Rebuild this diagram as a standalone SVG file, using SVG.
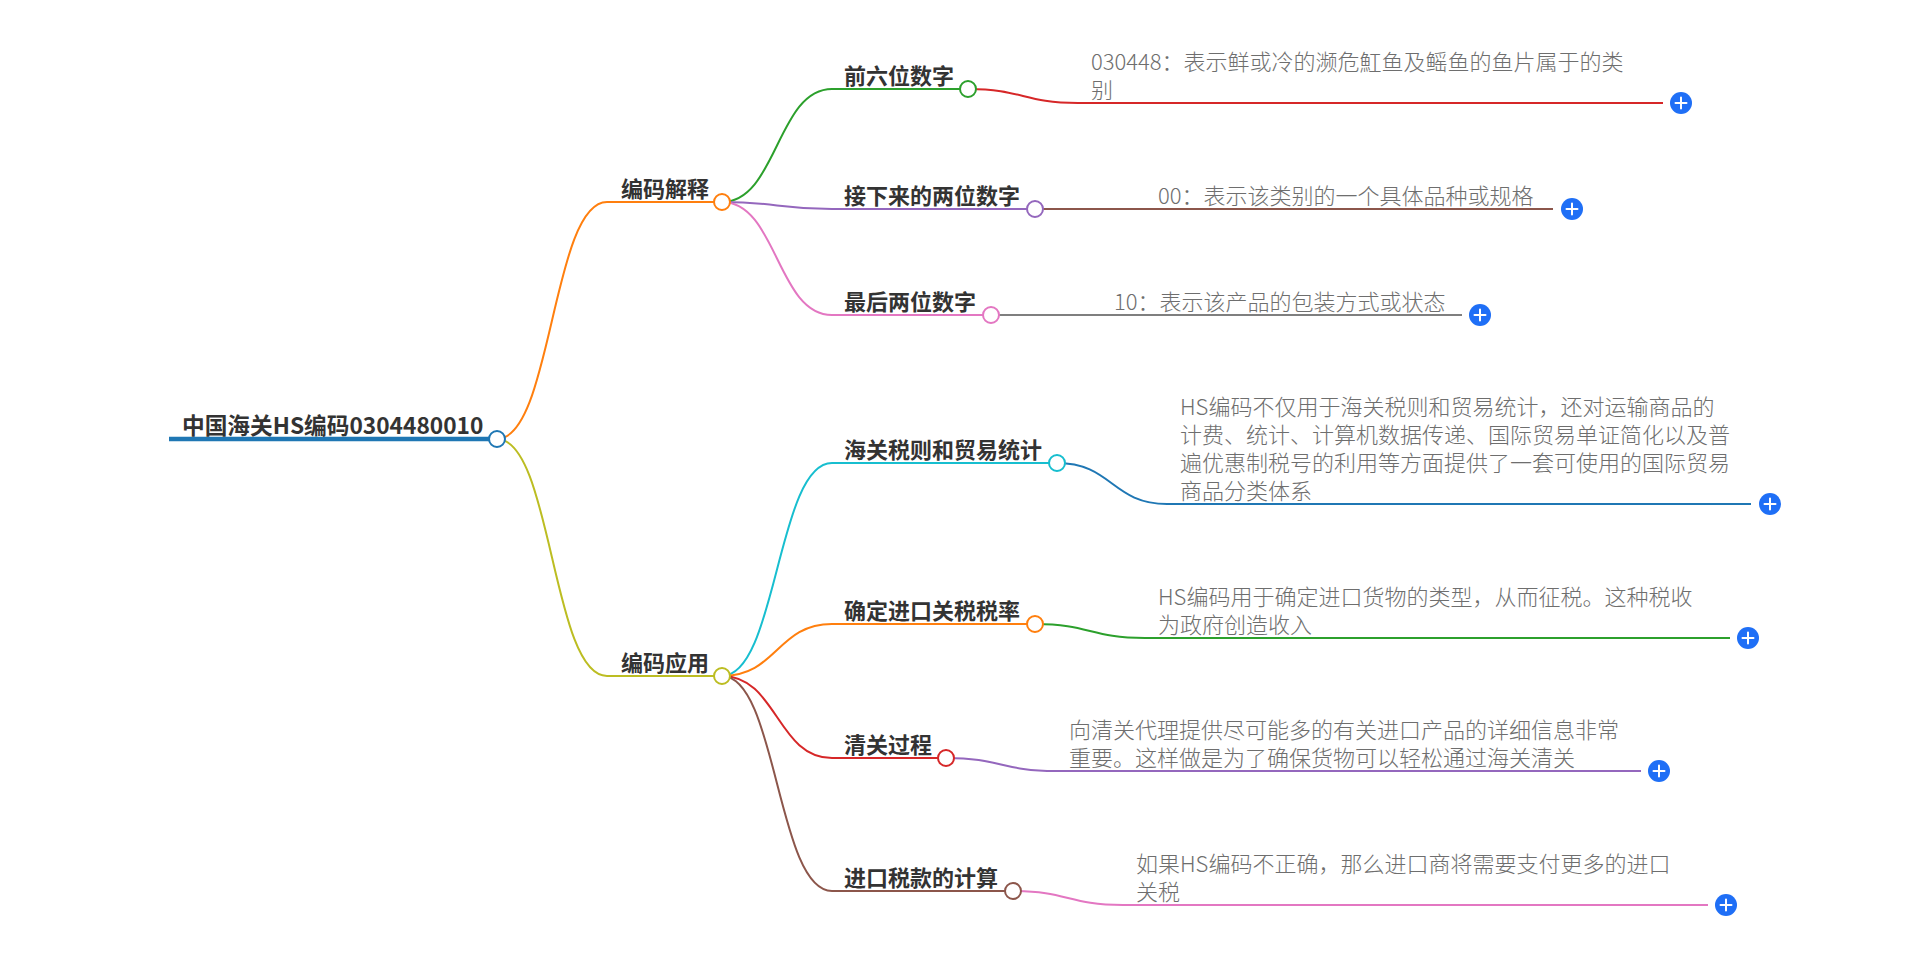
<svg xmlns="http://www.w3.org/2000/svg" width="1920" height="953" viewBox="0 0 1920 953">
<defs>
<style>
.lk{fill:none;stroke-width:2}
.ul{stroke-width:2;fill:none}
.dot{fill:#fff;stroke-width:2}
.t{font-family:"Noto Sans CJK SC","Noto Sans",sans-serif;font-weight:700;font-size:22px;fill:#333}
.root{font-size:22.7px}
.lf{font-family:"Noto Sans CJK SC","Noto Sans",sans-serif;font-weight:300;font-size:22px;fill:#6e6e6e}
.plus circle{fill:#1f6ff6}
.plus path{stroke:#fff;stroke-width:2;stroke-linecap:round}
</style>
<g id="plusIcon" class="plus"><circle r="11"/><path d="M-5.5 0H5.5M0 -5.5V5.5"/></g>
</defs>
<rect width="1920" height="953" fill="#fff"/>
<g id="connectors">
<path class="lk" stroke="#ff7f0e" d="M497 439C552 439 552 202 607 202"/>
<path class="lk" stroke="#bcbd22" d="M497 439C552 439 552 676 607 676"/>
<path class="lk" stroke="#2ca02c" d="M722 202C777 202 777 89 832 89"/>
<path class="lk" stroke="#9467bd" d="M722 202C777 202 777 209 832 209"/>
<path class="lk" stroke="#e377c2" d="M722 202C777 202 777 315 832 315"/>
<path class="lk" stroke="#17becf" d="M722 676C777 676 777 463 832 463"/>
<path class="lk" stroke="#ff7f0e" d="M722 676C777 676 777 624 832 624"/>
<path class="lk" stroke="#d62728" d="M722 676C777 676 777 758 832 758"/>
<path class="lk" stroke="#8c564b" d="M722 676C777 676 777 891 832 891"/>
<path class="lk" stroke="#d62728" d="M968 89C1023 89 1023 103 1078 103"/>
<path class="lk" stroke="#8c564b" d="M1035 209C1090 209 1090 209 1145 209"/>
<path class="lk" stroke="#7f7f7f" d="M991 315C1046 315 1046 315 1101 315"/>
<path class="lk" stroke="#1f77b4" d="M1057 463C1112 463 1112 504 1167 504"/>
<path class="lk" stroke="#2ca02c" d="M1035 624C1090 624 1090 638 1145 638"/>
<path class="lk" stroke="#9467bd" d="M946 758C1001 758 1001 771 1056 771"/>
<path class="lk" stroke="#e377c2" d="M1013 891C1068 891 1068 905 1123 905"/>
</g>
<g id="root">
<line x1="169" y1="439" x2="497" y2="439" stroke="#1f77b4" stroke-width="4.5"/>
<circle class="dot" cx="497" cy="439" r="8" stroke="#1f77b4"/>
<text class="t root" x="182" y="434">中国海关HS编码0304480010</text>
</g>
<g id="n-bianmajieshi">
<line class="ul" x1="607" y1="202" x2="714" y2="202" stroke="#ff7f0e"/>
<circle class="dot" cx="722" cy="202" r="8" stroke="#ff7f0e"/>
<text class="t" x="621" y="197">编码解释</text>
</g>
<g id="n-bianmayingyong">
<line class="ul" x1="607" y1="676" x2="714" y2="676" stroke="#bcbd22"/>
<circle class="dot" cx="722" cy="676" r="8" stroke="#bcbd22"/>
<text class="t" x="621" y="671">编码应用</text>
</g>
<g id="n-qianliuwei">
<line class="ul" x1="832" y1="89" x2="960" y2="89" stroke="#2ca02c"/>
<circle class="dot" cx="968" cy="89" r="8" stroke="#2ca02c"/>
<text class="t" x="844" y="84">前六位数字</text>
</g>
<g id="n-jiexialai">
<line class="ul" x1="832" y1="209" x2="1027" y2="209" stroke="#9467bd"/>
<circle class="dot" cx="1035" cy="209" r="8" stroke="#9467bd"/>
<text class="t" x="844" y="204">接下来的两位数字</text>
</g>
<g id="n-zuihou">
<line class="ul" x1="832" y1="315" x2="983" y2="315" stroke="#e377c2"/>
<circle class="dot" cx="991" cy="315" r="8" stroke="#e377c2"/>
<text class="t" x="844" y="310">最后两位数字</text>
</g>
<g id="n-haiguan">
<line class="ul" x1="832" y1="463" x2="1049" y2="463" stroke="#17becf"/>
<circle class="dot" cx="1057" cy="463" r="8" stroke="#17becf"/>
<text class="t" x="844" y="458">海关税则和贸易统计</text>
</g>
<g id="n-queding">
<line class="ul" x1="832" y1="624" x2="1027" y2="624" stroke="#ff7f0e"/>
<circle class="dot" cx="1035" cy="624" r="8" stroke="#ff7f0e"/>
<text class="t" x="844" y="619">确定进口关税税率</text>
</g>
<g id="n-qingguan">
<line class="ul" x1="832" y1="758" x2="938" y2="758" stroke="#d62728"/>
<circle class="dot" cx="946" cy="758" r="8" stroke="#d62728"/>
<text class="t" x="844" y="753">清关过程</text>
</g>
<g id="n-jinkou">
<line class="ul" x1="832" y1="891" x2="1005" y2="891" stroke="#8c564b"/>
<circle class="dot" cx="1013" cy="891" r="8" stroke="#8c564b"/>
<text class="t" x="844" y="886">进口税款的计算</text>
</g>
<g id="leaf-a1">
<line class="ul" x1="1078" y1="103" x2="1663" y2="103" stroke="#d62728"/>
<use href="#plusIcon" x="1681" y="103"/>
<text class="lf" x="1091"><tspan x="1091" y="70">030448：表示鲜或冷的濒危魟鱼及鳐鱼的鱼片属于的类</tspan><tspan x="1091" y="98">别</tspan></text>
</g>
<g id="leaf-a2">
<line class="ul" x1="1145" y1="209" x2="1553" y2="209" stroke="#8c564b"/>
<use href="#plusIcon" x="1572" y="209"/>
<text class="lf" x="1158" y="204">00：表示该类别的一个具体品种或规格</text>
</g>
<g id="leaf-a3">
<line class="ul" x1="1101" y1="315" x2="1462" y2="315" stroke="#7f7f7f"/>
<use href="#plusIcon" x="1480" y="315"/>
<text class="lf" x="1114" y="310">10：表示该产品的包装方式或状态</text>
</g>
<g id="leaf-b1">
<line class="ul" x1="1167" y1="504" x2="1751" y2="504" stroke="#1f77b4"/>
<use href="#plusIcon" x="1770" y="504"/>
<text class="lf" x="1180"><tspan x="1180" y="415">HS编码不仅用于海关税则和贸易统计，还对运输商品的</tspan><tspan x="1180" y="443">计费、统计、计算机数据传递、国际贸易单证简化以及普</tspan><tspan x="1180" y="471">遍优惠制税号的利用等方面提供了一套可使用的国际贸易</tspan><tspan x="1180" y="499">商品分类体系</tspan></text>
</g>
<g id="leaf-b2">
<line class="ul" x1="1145" y1="638" x2="1730" y2="638" stroke="#2ca02c"/>
<use href="#plusIcon" x="1748" y="638"/>
<text class="lf" x="1158"><tspan x="1158" y="605">HS编码用于确定进口货物的类型，从而征税。这种税收</tspan><tspan x="1158" y="633">为政府创造收入</tspan></text>
</g>
<g id="leaf-b3">
<line class="ul" x1="1056" y1="771" x2="1641" y2="771" stroke="#9467bd"/>
<use href="#plusIcon" x="1659" y="771"/>
<text class="lf" x="1069"><tspan x="1069" y="738">向清关代理提供尽可能多的有关进口产品的详细信息非常</tspan><tspan x="1069" y="766">重要。这样做是为了确保货物可以轻松通过海关清关</tspan></text>
</g>
<g id="leaf-b4">
<line class="ul" x1="1123" y1="905" x2="1708" y2="905" stroke="#e377c2"/>
<use href="#plusIcon" x="1726" y="905"/>
<text class="lf" x="1136"><tspan x="1136" y="872">如果HS编码不正确，那么进口商将需要支付更多的进口</tspan><tspan x="1136" y="900">关税</tspan></text>
</g>
</svg>
